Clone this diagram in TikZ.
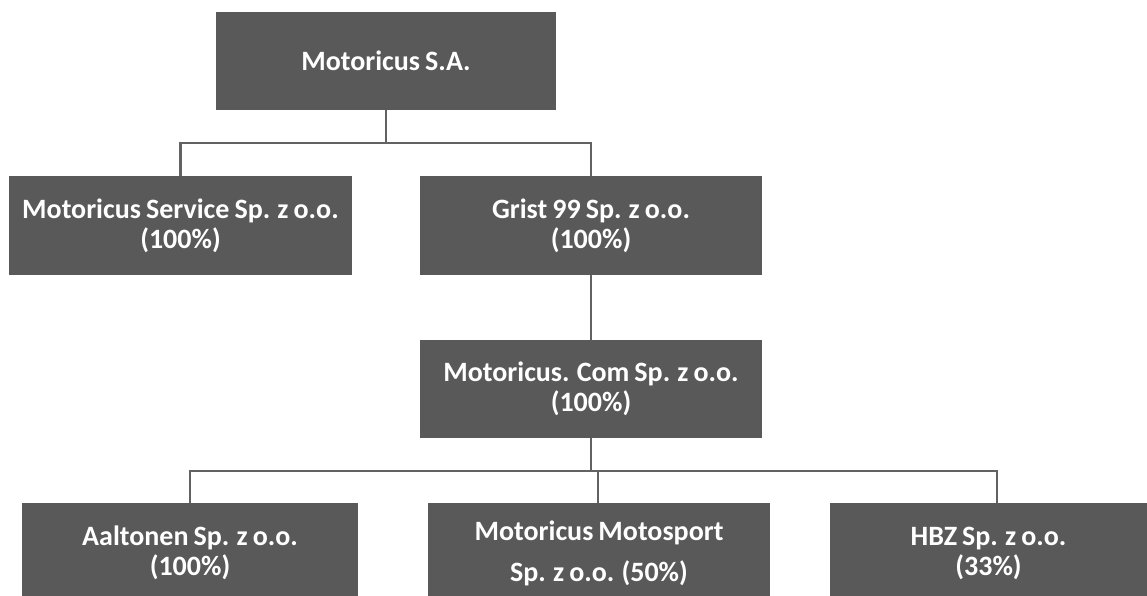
\documentclass[tikz,border=0pt]{standalone}
\usepackage{fontspec}
\setmainfont{Carlito}[WordSpace=0.8]
\definecolor{boxfill}{HTML}{595959}
\definecolor{linecol}{HTML}{626262}
\begin{document}
\begin{tikzpicture}[x=1pt,y=-1pt,
  orgbox/.style={draw=none,fill=boxfill,text=white,font=\bfseries\fontsize{28}{30}\selectfont,align=center,inner sep=0pt,minimum height=#1},
  orgbox/.default=98pt,
  link/.style={draw=linecol,line width=2.5pt}]
\useasboundingbox (0,0) rectangle (1147,595);
\node[orgbox,minimum width=340pt] (top) at (386,61) {Motoricus S.A.};
\node[orgbox,minimum width=343pt,minimum height=99pt] (serv) at (180.5,225.5) {Motoricus Service Sp. z o.o.\\(100\%)};
\node[orgbox,minimum width=342pt,minimum height=99pt] (grist) at (591,225.5) {Grist 99 Sp. z o.o.\\(100\%)};
\node[orgbox,minimum width=342pt] (com) at (591,389) {Motoricus. Com Sp. z o.o.\\(100\%)};
\node[orgbox,minimum width=336pt,minimum height=100pt] (aal) at (190,553) {Aaltonen Sp. z o.o.\\(100\%)};
\node[orgbox,minimum width=342pt,minimum height=100pt] (moto) at (599,553) {Motoricus Motosport\\[11pt]Sp. z o.o. (50\%)};
\node[orgbox,minimum width=317pt,minimum height=100pt] (hbz) at (988.5,553) {HBZ Sp. z o.o.\\(33\%)};
\draw[link] (top.south) -- ++(0,33) coordinate (j1);
\draw[link] (j1) -| (serv.north);
\draw[link] (j1) -| (grist.north);
\draw[link] (grist.south) -- (com.north);
\draw[link] (com.south) -- ++(0,33) coordinate (j2);
\draw[link] (j2) -| (aal.north);
\draw[link] (j2) -| ([xshift=-1pt]moto.north);
\draw[link] (j2) -| ([xshift=8.5pt]hbz.north);
\end{tikzpicture}
\end{document}
